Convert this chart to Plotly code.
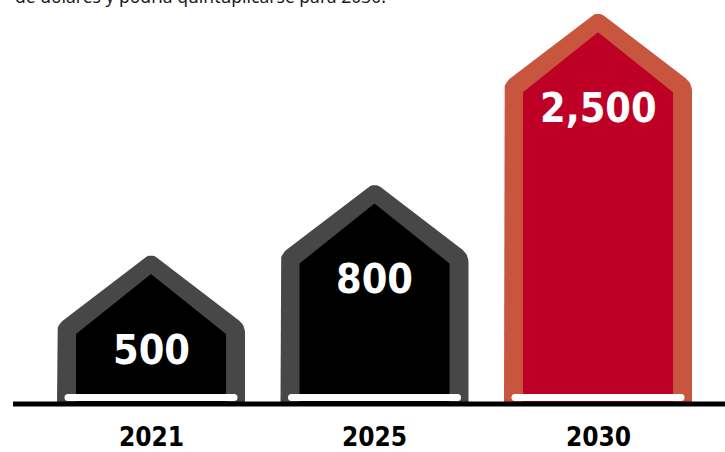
import math
import plotly.graph_objects as go

# Data
years = ["2021", "2025", "2030"]
values = [500, 800, 2500]
value_labels = ["500", "800", "2,500"]
caption = "de dólares y podría quintuplicarse para 2030."

# Styling
outline_colors = ["#474747", "#474747", "#C8553D"]
fill_colors = ["#000000", "#000000", "#BE0027"]

W, H = 725, 452
M_BOTTOM = 48
PLOT_H = H - M_BOTTOM
PX_PER_DECADE = 346.0
Y_LOG_MIN = 2.2627
Y_LOG_MAX = Y_LOG_MIN + PLOT_H / PX_PER_DECADE
X_MIN = -151.0 / 223.5
X_MAX = X_MIN + W / 223.5
PX_PER_X = 223.5

CONDENSED = "DejaVu Sans Condensed, Liberation Sans Narrow, sans-serif"


def rounded(pts, radius, steps=6):
    """Round the corners of a pixel-space polygon (list of (dx, dy))."""
    out = []
    n = len(pts)
    for i in range(n):
        p0, p1, p2 = pts[i - 1], pts[i], pts[(i + 1) % n]
        r = radius[i]
        if r <= 0:
            out.append(p1)
            continue
        v1 = (p0[0] - p1[0], p0[1] - p1[1])
        v2 = (p2[0] - p1[0], p2[1] - p1[1])
        l1 = math.hypot(*v1)
        l2 = math.hypot(*v2)
        u1 = (v1[0] / l1, v1[1] / l1)
        u2 = (v2[0] / l2, v2[1] / l2)
        a = (p1[0] + u1[0] * r, p1[1] + u1[1] * r)
        b = (p1[0] + u2[0] * r, p1[1] + u2[1] * r)
        for k in range(steps + 1):
            t = k / steps
            # quadratic bezier through the corner
            x = (1 - t) ** 2 * a[0] + 2 * (1 - t) * t * p1[0] + t ** 2 * b[0]
            y = (1 - t) ** 2 * a[1] + 2 * (1 - t) * t * p1[1] + t ** 2 * b[1]
            out.append((x, y))
    return out


def house(i, v, half_w, apex_off, roof_drop, r):
    """Pentagon whose apex sits at value v; offsets are in pixels below the apex."""
    top = math.log10(v)
    h = (top - Y_LOG_MIN) * PX_PER_DECADE  # pixel height of the apex above the base
    pts = [
        (-half_w, h),
        (-half_w, apex_off + roof_drop),
        (0, apex_off),
        (half_w, apex_off + roof_drop),
        (half_w, h),
    ]
    pts = rounded(pts, [0, r, r, r, 0])
    xs = [i + dx / PX_PER_X for dx, dy in pts]
    ys = [10 ** (top - dy / PX_PER_DECADE) for dx, dy in pts]
    xs.append(xs[0])
    ys.append(ys[0])
    return xs, ys


fig = go.Figure()

for i, v in enumerate(values):
    xo, yo = house(i, v, 94, 0, 72, 8)
    fig.add_trace(go.Scatter(x=xo, y=yo, mode="lines", fill="toself",
                             fillcolor=outline_colors[i], line=dict(width=0),
                             hoverinfo="skip", showlegend=False))
    xi, yi = house(i, v, 75, 21, 60, 0)
    fig.add_trace(go.Scatter(x=xi, y=yi, mode="lines", fill="toself",
                             fillcolor=fill_colors[i], line=dict(width=0),
                             hoverinfo="skip", showlegend=False))
    # white sill along the floor of each house
    y_sill = 10 ** (Y_LOG_MIN + 6.5 / PX_PER_DECADE)
    half = 83 / PX_PER_X
    fig.add_trace(go.Scatter(x=[i - half, i + half], y=[y_sill, y_sill],
                             mode="lines+markers",
                             line=dict(color="#FFFFFF", width=7),
                             marker=dict(color="#FFFFFF", size=7, line=dict(width=0)),
                             hoverinfo="skip", showlegend=False, cliponaxis=False))
    fig.add_annotation(x=i, y=math.log10(v), yshift=-97, text=value_labels[i],
                       showarrow=False, xanchor="center", yanchor="middle",
                       font=dict(family=CONDENSED, size=41,
                                 color="#FFFFFF", weight="bold"))
    fig.add_annotation(x=i, xref="x", y=-0.0817, yref="paper", text=years[i],
                       showarrow=False, xanchor="center", yanchor="middle",
                       font=dict(family=CONDENSED, size=26,
                                 color="#000000", weight="bold"))

# ground line
fig.add_shape(type="line", xref="paper", yref="paper", x0=13 / W, x1=1,
              y0=0, y1=0, line=dict(color="#000000", width=5), layer="above")

# sentence running off the top edge
fig.add_annotation(x=13 / W, xref="paper", xanchor="left", y=1, yref="paper",
                   yanchor="bottom", yshift=-10, text=caption, showarrow=False,
                   font=dict(family="Noto Sans", size=17.5, color="#1A1A1A"))

fig.update_layout(
    width=W, height=H,
    margin=dict(l=0, r=0, t=0, b=M_BOTTOM, pad=0),
    paper_bgcolor="#FFFFFF", plot_bgcolor="#FFFFFF",
    xaxis=dict(range=[X_MIN, X_MAX], visible=False, fixedrange=True),
    yaxis=dict(type="log", range=[Y_LOG_MIN, Y_LOG_MAX], visible=False,
               fixedrange=True),
)

fig.write_html("out.html")
